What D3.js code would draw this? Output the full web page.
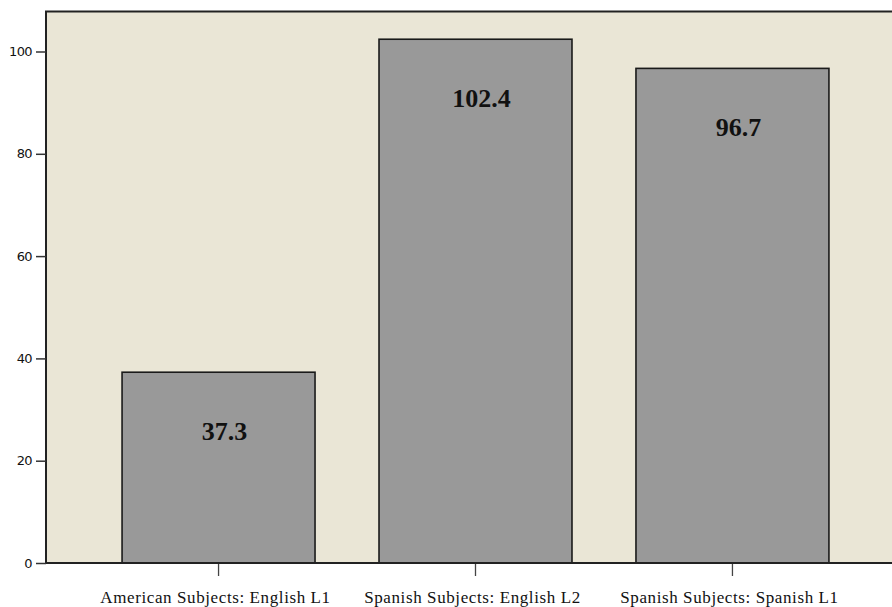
<!DOCTYPE html>
<html>
<head>
<meta charset="utf-8">
<script src="https://cdn.jsdelivr.net/npm/d3@7"></script>
<style>
  html, body { margin: 0; padding: 0; background: #ffffff; }
  svg { display: block; }
</style>
</head>
<body>
<svg id="chart" width="892" height="607"></svg>
<script>
const categories = ["American Subjects: English L1", "Spanish Subjects: English L2", "Spanish Subjects: Spanish L1"];
const values = [37.3, 102.4, 96.7];
const valueLabels = ["37.3", "102.4", "96.7"];
const yTicks = [0, 20, 40, 60, 80, 100];

const W = 892, H = 607;
const plot = { left: 46, top: 11.5, bottom: 563, right: 905 };

const svg = d3.select("#chart");

const y = d3.scaleLinear().domain([0, 100]).range([563, 51.5]);
const x = d3.scaleBand().domain(categories).range([plot.left, plot.right])
  .paddingInner(0.249).paddingOuter(0.296);

// plot background
svg.append("rect")
  .attr("x", plot.left).attr("y", plot.top)
  .attr("width", plot.right - plot.left).attr("height", plot.bottom - plot.top)
  .attr("fill", "#eae6d6")
  .attr("stroke", "#222").attr("stroke-width", 2);

// bars
svg.append("g").selectAll("rect").data(values).join("rect")
  .attr("x", (d, i) => x(categories[i]))
  .attr("y", d => y(d))
  .attr("width", x.bandwidth())
  .attr("height", d => y(0) - y(d))
  .attr("fill", "#999999")
  .attr("stroke", "#1a1a1a").attr("stroke-width", 1.6);

// value labels
svg.append("g").selectAll("text").data(values).join("text")
  .attr("x", (d, i) => x(categories[i]) + x.bandwidth() / 2 + 6)
  .attr("y", d => y(d) + 68)
  .attr("text-anchor", "middle")
  .attr("font-family", "'Liberation Serif', 'Times New Roman', serif")
  .attr("font-weight", "bold")
  .attr("font-size", 26)
  .attr("fill", "#111")
  .text((d, i) => valueLabels[i]);

// y axis
const yAxis = d3.axisLeft(y).tickValues(yTicks).tickSize(10).tickPadding(4);
const gy = svg.append("g").attr("transform", `translate(${plot.left},0)`).call(yAxis);
gy.select(".domain").remove();
gy.selectAll(".tick line").attr("stroke", "#333").attr("stroke-width", 1.5);
gy.selectAll(".tick text")
  .attr("font-family", "'DejaVu Sans', Verdana, sans-serif")
  .attr("font-size", 13)
  .attr("letter-spacing", "-0.6")
  .attr("fill", "#111");

// x axis
const xAxis = d3.axisBottom(x).tickSize(13).tickPadding(15);
const gx = svg.append("g").attr("transform", `translate(0,${plot.bottom})`).call(xAxis);
gx.select(".domain").remove();
gx.selectAll(".tick line").attr("stroke", "#444").attr("stroke-width", 1.3);
gx.selectAll(".tick text")
  .attr("font-family", "'Liberation Serif', 'Times New Roman', serif")
  .attr("font-size", 17)
  .attr("letter-spacing", "0.6")
  .attr("fill", "#111")
  .attr("dx", -3);

// bottom axis line
svg.append("line")
  .attr("x1", plot.left).attr("x2", W)
  .attr("y1", plot.bottom).attr("y2", plot.bottom)
  .attr("stroke", "#222").attr("stroke-width", 2);
</script>
</body>
</html>
